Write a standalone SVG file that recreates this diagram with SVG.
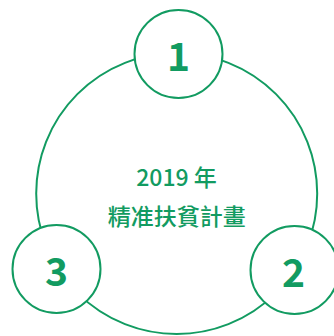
<svg xmlns="http://www.w3.org/2000/svg" width="334" height="336" viewBox="0 0 334 336">
<style>
.ring{fill:none;stroke:#129b61;stroke-width:2}
.node{fill:#fff;stroke:#129b61;stroke-width:2}
.num{font-family:"Noto Sans CJK TC","Noto Sans",sans-serif;font-weight:700;font-size:39px;fill:#129b61;text-anchor:middle}
.title{font-family:"Noto Sans CJK TC","Noto Sans",sans-serif;font-weight:500;font-size:23px;fill:#129b61;text-anchor:middle}
</style>
<rect width="334" height="336" fill="#fff"/>
<g id="connectors">
<circle class="ring" cx="176.7" cy="193.5" r="140.5"/>
</g>
<g id="center">
<text class="title" x="176.5" y="185.5">2019 年</text>
<text class="title" x="176.7" y="225">精准扶貧計畫</text>
</g>
<g id="node1">
<circle class="node" cx="178.5" cy="54" r="44"/>
<text class="num" x="178.5" y="70.5">1</text>
</g>
<g id="node2">
<circle class="node" cx="294.5" cy="270" r="44"/>
<text class="num" x="293.5" y="286.5">2</text>
</g>
<g id="node3">
<circle class="node" cx="56.5" cy="269" r="44"/>
<text class="num" x="56.5" y="285.7">3</text>
</g>
</svg>
